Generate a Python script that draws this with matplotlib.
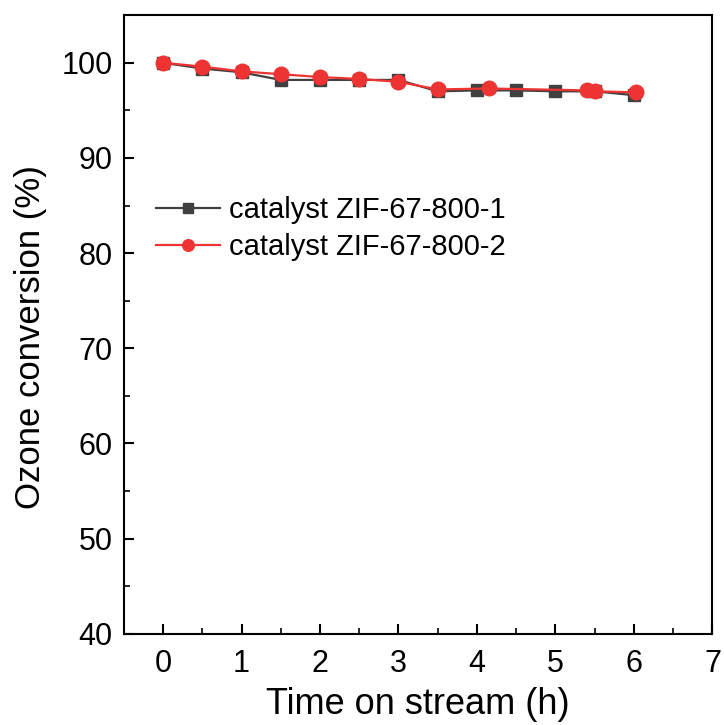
import numpy as np
import matplotlib.pyplot as plt
from matplotlib.ticker import MultipleLocator

plt.rcParams['font.family'] = ['Liberation Sans', 'DejaVu Sans']

# catalyst ZIF-67-800-1
t1 = [0, 0.5, 1, 1.5, 2, 2.5, 3, 3.5, 4, 4.5, 5, 5.5, 6]
c1 = [100, 99.4, 99.0, 98.2, 98.2, 98.2, 98.2, 97.0, 97.1, 97.1, 97.0, 97.0, 96.6]

# catalyst ZIF-67-800-2
t2 = [0, 0.5, 1, 1.5, 2, 2.5, 3, 3.5, 4.15, 5.4, 5.5, 6.02]
c2 = [100, 99.6, 99.1, 98.8, 98.5, 98.3, 98.0, 97.2, 97.3, 97.1, 97.0, 96.9]

fig = plt.figure(figsize=(7.24, 7.25), dpi=100)
ax = fig.add_axes([0.171, 0.126, 0.813, 0.853])

ax.plot(t1, c1, color='#404040', marker='s', markersize=9, lw=1.6,
        label='catalyst ZIF-67-800-1')
ax.plot(t2, c2, color='#ee3333', marker='o', markersize=10.5, lw=1.6,
        label='catalyst ZIF-67-800-2')

ax.set_xlim(-0.5, 7)
ax.set_ylim(40, 105)
ax.xaxis.set_major_locator(MultipleLocator(1))
ax.xaxis.set_minor_locator(MultipleLocator(0.5))
ax.yaxis.set_major_locator(MultipleLocator(10))
ax.yaxis.set_minor_locator(MultipleLocator(5))
ax.tick_params(which='major', direction='in', length=7, width=1.5, labelsize=22, pad=8)
ax.tick_params(axis='x', which='major', pad=11)
ax.tick_params(which='minor', direction='in', length=4, width=1.2)
for s in ax.spines.values():
    s.set_linewidth(1.5)

ax.set_xlabel('Time on stream (h)', fontsize=26, labelpad=6)
ax.set_ylabel('Ozone conversion (%)', fontsize=25, labelpad=6)
ax.yaxis.set_label_coords(-0.13, 0.48)

ax.legend(loc='upper left', bbox_to_anchor=(0.02, 0.74), frameon=False,
          fontsize=21, handlelength=2.2, handletextpad=0.3, labelspacing=0.3,
          markerscale=0.8, borderaxespad=0.3)

fig.savefig('out.png')
